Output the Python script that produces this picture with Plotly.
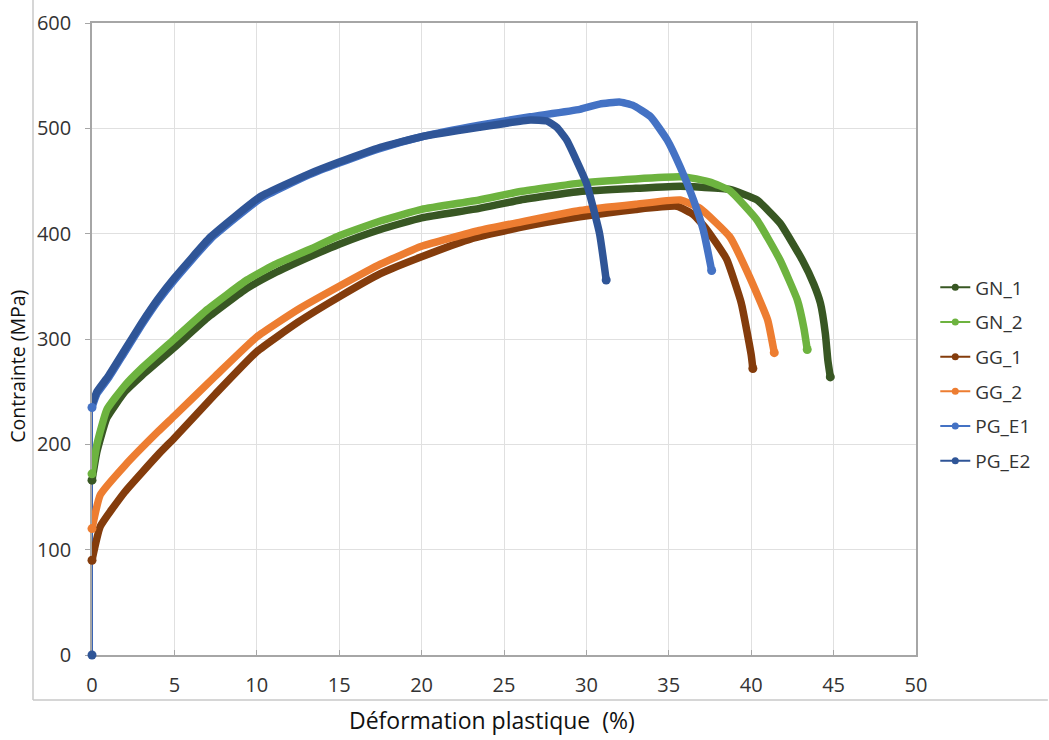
import plotly.graph_objects as go

# ---------------- data ----------------
GN_1_x = [0, 0.3, 0.9, 2, 3, 5, 7, 9.4, 11, 13.2, 15, 17.5, 20, 23.5, 26, 29.6, 33, 35.7, 37, 38.7, 40.35, 41.75, 43.1, 43.8, 44.2, 44.5, 44.65, 44.8]
GN_1_y = [166, 193, 225, 250, 265, 292, 320, 348, 362, 378, 390, 404, 415, 424, 432, 440, 443, 445, 444, 442, 432, 410, 375, 352, 334, 305, 280, 264]

GN_2_x = [0, 0.3, 0.9, 2, 3, 5, 7, 9.4, 11, 13.2, 15, 17.5, 20, 23.5, 26, 29.6, 33, 35.7, 36.3, 37.5, 38.7, 40.35, 41.75, 42.8, 43.2, 43.4]
GN_2_y = [172, 200, 233, 256, 272, 300, 328, 356, 370, 385, 398, 412, 423, 432, 440, 448, 452, 454, 453, 449, 441, 413, 375, 337, 310, 290]

GG_1_x = [0, 0.5, 2, 4, 5, 7.5, 10, 12.5, 15, 17.5, 20, 23, 26, 29.6, 33, 35.5, 36.5, 37.3, 38.5, 39.4, 40.0, 40.1]
GG_1_y = [90, 122, 155, 190, 206, 248, 288, 316, 340, 362, 378, 395, 406, 416, 423, 426, 418, 404, 376, 334, 285, 272]

GG_2_x = [0, 0.5, 2, 4, 5, 7.5, 10, 12.5, 15, 17.5, 20, 23.5, 26, 29.6, 33, 35.7, 36.9, 38.7, 39.9, 41.0, 41.4]
GG_2_y = [120, 152, 180, 212, 227, 265, 302, 328, 350, 371, 388, 403, 411, 422, 428, 432, 424, 397, 359, 318, 287]

PG_E1_x = [0, 0.3, 1, 2, 3, 4, 5, 7.2, 10.2, 13.2, 15, 17.5, 20, 23.5, 26.6, 29.6, 30.8, 32, 32.8, 33.9, 34.9, 35.7, 36.5, 37.1, 37.6]
PG_E1_y = [235, 248, 263, 288, 313, 336, 356, 395, 433, 456, 467, 481, 492, 503, 511, 518, 523, 525, 522, 511, 489, 463, 432, 403, 365]

PG_E2_x = [0, 0, 0.3, 1, 2, 3, 4, 5, 7.2, 10.2, 13.2, 15, 17.5, 20, 23.5, 26.6, 27.6, 28.2, 28.8, 30.0, 30.8, 31.2]
PG_E2_y = [0, 238, 250, 265, 290, 315, 338, 358, 397, 435, 457, 468, 482, 492, 501, 508, 507, 501, 489, 448, 400, 356]

series_names = ["GN_1", "GN_2", "GG_1", "GG_2", "PG_E1", "PG_E2"]
series_x = [GN_1_x, GN_2_x, GG_1_x, GG_2_x, PG_E1_x, PG_E2_x]
series_y = [GN_1_y, GN_2_y, GG_1_y, GG_2_y, PG_E1_y, PG_E2_y]
colors = ["#385723", "#6DB33F", "#843C0C", "#ED7D31", "#4472C4", "#2F5597"]

x_ticks = [0, 5, 10, 15, 20, 25, 30, 35, 40, 45, 50]
y_ticks = [0, 100, 200, 300, 400, 500, 600]

FONT = "Open Sans"

fig = go.Figure()

# thin initial segment of PG_E2 (0,0) -> first measured stress
fig.add_trace(go.Scatter(x=PG_E2_x[:2], y=PG_E2_y[:2], mode="lines",
                         line=dict(color="#3B65B5", width=2), showlegend=False,
                         cliponaxis=False, hoverinfo="skip"))

# thick data bands
for name, xs, ys, c in zip(series_names, series_x, series_y, colors):
    start = 1 if name == "PG_E2" else 0
    fig.add_trace(go.Scatter(x=xs[start:], y=ys[start:], mode="lines",
                             line=dict(color=c, width=7.5, shape="spline", smoothing=0.4),
                             cliponaxis=False, showlegend=False, name=name))

# end / start markers
for name, xs, ys, c in zip(series_names, series_x, series_y, colors):
    fig.add_trace(go.Scatter(x=[xs[0], xs[-1]], y=[ys[0], ys[-1]], mode="markers",
                             marker=dict(color=c, size=9), cliponaxis=False,
                             showlegend=False))

# legend entries (line with a dot, as in the reference)
for name, c in zip(series_names, colors):
    fig.add_trace(go.Scatter(x=[None], y=[None], mode="lines+markers", name=name,
                             line=dict(color=c, width=2), marker=dict(color=c, size=7),
                             legendgroup=name))

axis_col = "#A6A6A6"
grid_col = "#E0E0E0"
tick_font = dict(family=FONT, size=20, color="#333333")

fig.update_layout(
    width=1049, height=740,
    margin=dict(l=92, r=133, t=23, b=85, autoexpand=False),
    paper_bgcolor="white", plot_bgcolor="white",
    font=dict(family=FONT, size=19, color="#333333"),
    showlegend=True,
    legend=dict(x=1.0234, y=0.444, xanchor="left", yanchor="middle",
                font=dict(family=FONT, size=19, color="#333333"),
                tracegroupgap=7, itemwidth=30, bgcolor="rgba(0,0,0,0)"),
    xaxis=dict(range=[0, 50], tickvals=x_ticks, ticktext=[str(v) for v in x_ticks],
               automargin=False,
               showgrid=True, gridcolor=grid_col, gridwidth=1,
               showline=True, linecolor=axis_col, linewidth=1.5, mirror=True,
               ticks="inside", ticklen=5, tickcolor=axis_col, layer="below traces",
               ticklabelstandoff=11, zeroline=False, tickfont=tick_font),
    yaxis=dict(range=[0, 600], tickvals=y_ticks, ticktext=[str(v) for v in y_ticks],
               automargin=False,
               showgrid=True, gridcolor=grid_col, gridwidth=1,
               showline=True, linecolor=axis_col, linewidth=1.5, mirror=True,
               ticks="outside", ticklen=5, tickcolor=axis_col, layer="below traces",
               ticklabelstandoff=10, zeroline=False, tickfont=tick_font),
)

# axis titles
fig.add_annotation(text="Déformation plastique \u00a0(%)", xref="paper", yref="paper",
                   x=0.485, y=-0.103, xanchor="center", yanchor="middle", showarrow=False,
                   font=dict(family=FONT, size=23, color="#111111"))
fig.add_annotation(text="Contrainte (MPa)", xref="paper", yref="paper",
                   x=-0.0898, y=0.456, xanchor="center", yanchor="middle", showarrow=False,
                   textangle=-90, font=dict(family=FONT, size=19.5, color="#111111"))

# outer chart frame (left and bottom edges visible in the picture)
fig.add_shape(type="line", xref="paper", yref="paper", x0=-0.0716, x1=-0.0716,
              y0=-0.0712, y1=1.04, line=dict(color="#C8C8C8", width=1.5))
fig.add_shape(type="line", xref="paper", yref="paper", x0=-0.0716, x1=1.16,
              y0=-0.0712, y1=-0.0712, line=dict(color="#C8C8C8", width=1.5))

fig.write_html("out.html", config={"displayModeBar": False},
               post_script="document.body.style.margin='0px';")
